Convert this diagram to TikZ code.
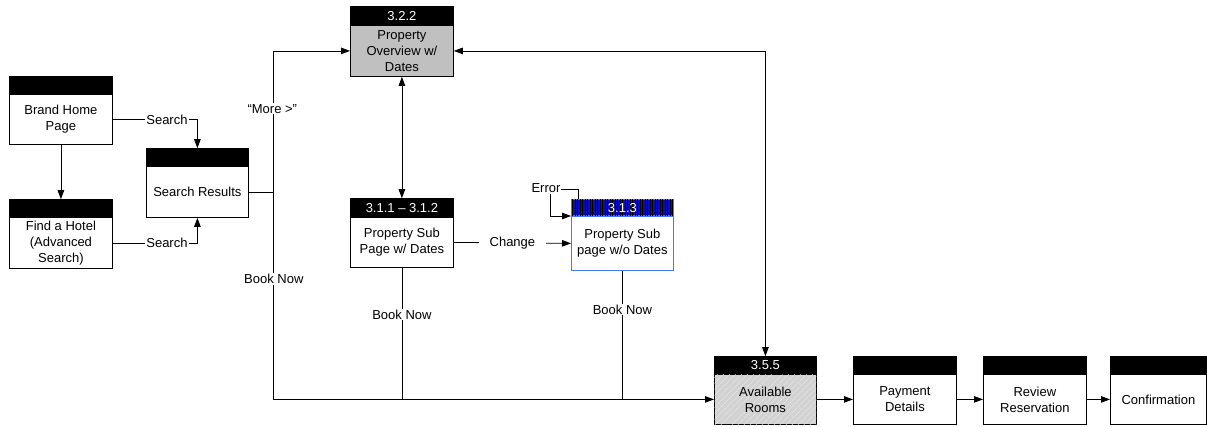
\documentclass[tikz,border=0pt]{standalone}
\usepackage{fontspec}
\setmainfont{Liberation Sans}
\usetikzlibrary{arrows.meta,patterns,patterns.meta}
\definecolor{pogray}{RGB}{192,192,192}
\definecolor{argray}{RGB}{210,210,210}
\definecolor{arhatch}{RGB}{236,236,236}
\definecolor{pblue}{RGB}{68,119,255}
\definecolor{hblue}{RGB}{10,10,190}
\begin{document}
\begin{tikzpicture}[x=1pt,y=-1pt,
  every node/.style={font=\fontsize{13}{16}\selectfont},
  body/.style={draw=black, line width=0.8pt, fill=white, align=center, inner sep=0pt, anchor=north west},
  hdr/.style={draw=black, line width=0.8pt, fill=black, text=white, inner sep=0pt, anchor=south west},
  arr/.style={-{Triangle[length=9pt,width=6.5pt]}, line width=0.8pt},
  darr/.style={{Triangle[length=9pt,width=6.5pt]}-{Triangle[length=9pt,width=6.5pt]}, line width=0.8pt},
  ln/.style={line width=0.8pt},
  lbl/.style={fill=white, inner sep=1pt}]
\useasboundingbox (0,0) rectangle (1207,426);

% boxes
\node[body, minimum width=103pt, minimum height=50pt] (brand) at (9,94) {Brand Home\\Page};
\node[hdr, minimum width=103pt, minimum height=17pt] (brandh) at (brand.north west) {};

\node[body, minimum width=103pt, minimum height=51pt] (find) at (9,217) {Find a Hotel\\(Advanced\\Search)};
\node[hdr, minimum width=103pt, minimum height=17pt] (findh) at (find.north west) {};

\node[body, minimum width=102pt, minimum height=51pt] (sr) at (146,166) {Search Results};
\node[hdr, minimum width=102pt, minimum height=17pt] (srh) at (sr.north west) {};

\node[body, fill=pogray, minimum width=103pt, minimum height=51pt] (po) at (350,25) {Property\\Overview w/\\Dates};
\node[hdr, minimum width=103pt, minimum height=18pt] (poh) at (po.north west) {3.2.2};

\node[body, minimum width=103pt, minimum height=50pt] (ps1) at (350,217) {Property Sub\\Page w/ Dates};
\node[hdr, minimum width=103pt, minimum height=18pt] (ps1h) at (ps1.north west) {3.1.1 -- 3.1.2};

\node[body, draw=pblue, minimum width=102pt, minimum height=54pt] (ps2) at (571,216) {Property Sub\\page w/o Dates};
\node[hdr, draw=pblue, fill=hblue, postaction={pattern={Lines[angle=90, distance=2.5pt, line width=0.7pt]}, pattern color=black}, minimum width=102pt, minimum height=16pt] (ps2h) at (ps2.north west) {3.1.3};

\node[body, fill=argray, postaction={pattern={Lines[angle=45, distance=4pt, line width=0.6pt]}, pattern color=arhatch}, minimum width=102pt, minimum height=50pt] (ar) at (714,374) {Available\\Rooms};
\node[hdr, minimum width=102pt, minimum height=17pt] (arh) at (ar.north west) {3.5.5};

\node[body, minimum width=103pt, minimum height=50pt] (pd) at (853,374) {Payment\\Details};
\node[hdr, minimum width=103pt, minimum height=17pt] (pdh) at (pd.north west) {};

\node[body, minimum width=103pt, minimum height=50pt] (rr) at (983,374) {Review\\Reservation};
\node[hdr, minimum width=103pt, minimum height=17pt] (rrh) at (rr.north west) {};

\node[body, minimum width=96pt, minimum height=50pt] (cf) at (1110,374) {Confirmation};
\node[hdr, minimum width=96pt, minimum height=17pt] (cfh) at (cf.north west) {};

% connectors
\draw[arr] (brand.south) -- (findh.north);
\draw[arr] (brand.east) -| node[lbl, pos=0.32] {Search} (srh.north);
\draw[arr] (find.east) -| node[lbl, pos=0.32] {Search} (sr.south);

\path (sr.east) -- ++(25,0) coordinate (j);
\draw[ln] (sr.east) -- (j);
\draw[arr] (j) |- node[lbl, pos=0.295, xshift=-1.5pt] {“More >"} (po.west);
\draw[arr] (j) |- node[lbl, pos=0.21] {Book Now} (ar.west);

\draw[darr] (po.south) -- (ps1h.north);
\draw[arr] (ps1.east) -- node[lbl, inner xsep=11pt] {Change} (ps2.west);

\draw[arr] ([xshift=7pt]ps2h.north west) -- ++(0,-10) -| ([xshift=-21pt]ps2h.south west) -- (ps2h.south west);
\node[lbl] (err) at (546,188) {Error};

\draw[ln] (ps1.south) -- node[lbl, pos=0.356] {Book Now} (ps1.south |- ar.west);
\draw[ln] (ps2.south) -- node[lbl, pos=0.30] {Book Now} (ps2.south |- ar.west);

\draw[darr] (arh.north) |- (po.east);
\draw[arr] (ar.east) -- (pd.west);
\draw[arr] (pd.east) -- (rr.west);
\draw[arr] (rr.east) -- (cf.west);
\end{tikzpicture}
\end{document}
